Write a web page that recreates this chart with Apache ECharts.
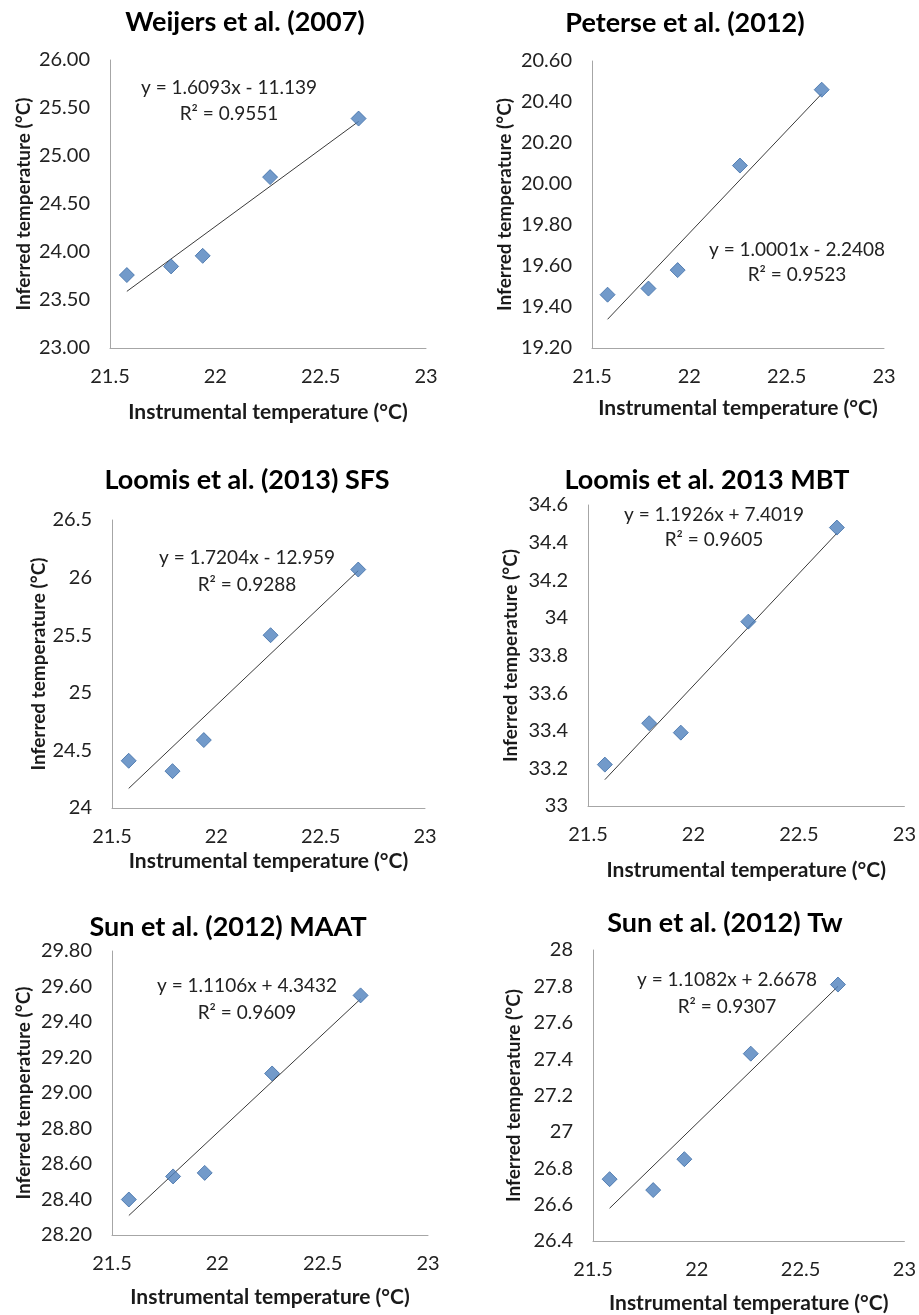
<!DOCTYPE html>
<html>
<head>
<meta charset="utf-8">
<script src="https://cdn.jsdelivr.net/npm/echarts@6/dist/echarts.min.js"></script>
<style>html,body{margin:0;padding:0;background:#fff;}#c{width:919px;height:1315px;}</style>
</head>
<body>
<div id="c"></div>
<script>
// ---- data ----
const instrumental = [21.58, 21.79, 21.94, 22.26, 22.68];
const xTickLabels = ['21.5', '22', '22.5', '23'];

const titles = ['Weijers et al. (2007)', 'Peterse et al. (2012)', 'Loomis et al. (2013) SFS',
                'Loomis et al. 2013 MBT', 'Sun et al. (2012) MAAT', 'Sun et al. (2012) Tw'];

const weijers   = [23.76, 23.85, 23.96, 24.78, 25.39];
const peterse   = [19.46, 19.49, 19.58, 20.09, 20.46];
const loomisSFS = [24.41, 24.32, 24.59, 25.50, 26.07];
const loomisMBT = [33.22, 33.44, 33.39, 33.98, 34.48];
const sunMAAT   = [28.40, 28.53, 28.55, 29.11, 29.55];
const sunTw     = [26.74, 26.68, 26.85, 27.43, 27.81];

// trendline end values (y at x = 21.58 and x = 22.68)
const trendX = [21.58, 22.68];
const weijersTrend   = [23.59, 25.36];
const peterseTrend   = [19.34, 20.44];
const loomisSFSTrend = [24.17, 26.06];
const loomisMBTTrend = [33.14, 34.45];
const sunMAATTrend   = [28.31, 29.53];
const sunTwTrend     = [26.58, 27.80];

const equations = ['y = 1.6093x - 11.139', 'y = 1.0001x - 2.2408', 'y = 1.7204x - 12.959',
                   'y = 1.1926x + 7.4019', 'y = 1.1106x + 4.3432', 'y = 1.1082x + 2.6678'];
const rSquared = ['R\u00b2 = 0.9551', 'R\u00b2 = 0.9523', 'R\u00b2 = 0.9288',
                  'R\u00b2 = 0.9605', 'R\u00b2 = 0.9609', 'R\u00b2 = 0.9307'];

const yTicks1 = ['23.00', '23.50', '24.00', '24.50', '25.00', '25.50', '26.00'];
const yTicks2 = ['19.20', '19.40', '19.60', '19.80', '20.00', '20.20', '20.40', '20.60'];
const yTicks3 = ['24', '24.5', '25', '25.5', '26', '26.5'];
const yTicks4 = ['33', '33.2', '33.4', '33.6', '33.8', '34', '34.2', '34.4', '34.6'];
const yTicks5 = ['28.20', '28.40', '28.60', '28.80', '29.00', '29.20', '29.40', '29.60', '29.80'];
const yTicks6 = ['26.4', '26.6', '26.8', '27', '27.2', '27.4', '27.6', '27.8', '28'];

const yMin = [23, 19.2, 24, 33, 28.2, 26.4];
const yMax = [26, 20.6, 26.5, 34.6, 29.8, 28];
const yStep = [0.5, 0.2, 0.5, 0.2, 0.2, 0.2];

const series6 = [weijers, peterse, loomisSFS, loomisMBT, sunMAAT, sunTw];
const trends6 = [weijersTrend, peterseTrend, loomisSFSTrend, loomisMBTTrend, sunMAATTrend, sunTwTrend];
const yTickSets = [yTicks1, yTicks2, yTicks3, yTicks4, yTicks5, yTicks6];

// ---- layout ----
const grids = [
  {left: 110, top: 60,  width: 316, height: 288},
  {left: 592, top: 61,  width: 292, height: 287},
  {left: 112, top: 520, width: 313, height: 288},
  {left: 588, top: 505, width: 318, height: 301},
  {left: 112, top: 951, width: 316, height: 284},
  {left: 593, top: 950, width: 313, height: 291}
];
const titlePos = [[245, 22], [685, 23], [247, 480], [707, 480], [228, 927], [725, 923]];
const eqPos = [[229, 88, 114], [797, 250, 275], [247, 558, 585], [714, 515, 540], [247, 986, 1013], [727, 980, 1007]];
const xNameGap = [54, 50, 43, 54, 52, 52];
const yNameGap = [77, 78, 59, 68, 79, 70];

const FONT = 'Lato';
const option = {
  backgroundColor: '#fff',
  animation: false,
  grid: grids.map(g => Object.assign({containLabel: false}, g)),
  xAxis: [], yAxis: [], series: [], graphic: []
};

for (let i = 0; i < 6; i++) {
  option.xAxis.push({
    type: 'value', gridIndex: i, min: 21.5, max: 23, interval: 0.5,
    name: 'Instrumental temperature (\u00b0C)', nameLocation: 'middle', nameGap: xNameGap[i],
    nameTextStyle: {fontFamily: FONT, fontWeight: 'bold', fontSize: 21, color: '#1a1a1a'},
    axisLine: {show: true, lineStyle: {color: '#a6a6a6', width: 1}},
    axisTick: {show: false},
    splitLine: {show: false},
    axisLabel: {fontFamily: FONT, fontSize: 20, color: '#222', margin: 19,
      formatter: v => xTickLabels[Math.round((v - 21.5) / 0.5)]}
  });
  const ticks = yTickSets[i], mn = yMin[i], st = yStep[i];
  option.yAxis.push({
    type: 'value', gridIndex: i, min: yMin[i], max: yMax[i], interval: yStep[i],
    name: 'Inferred temperature (\u00b0C)', nameLocation: 'middle', nameGap: yNameGap[i],
    nameTextStyle: {fontFamily: FONT, fontWeight: 'bold', fontSize: 19, color: '#1a1a1a'},
    axisLine: {show: true, lineStyle: {color: '#a6a6a6', width: 1}},
    axisTick: {show: false},
    splitLine: {show: false},
    axisLabel: {fontFamily: FONT, fontSize: 20, color: '#222', margin: 20,
      formatter: v => ticks[Math.round((v - mn) / st)]}
  });
  option.series.push({
    type: 'line', xAxisIndex: i, yAxisIndex: i,
    data: trendX.map((x, k) => [x, trends6[i][k]]),
    symbol: 'none', lineStyle: {color: '#3a3a3a', width: 1}, z: 2
  });
  option.series.push({
    type: 'scatter', xAxisIndex: i, yAxisIndex: i,
    data: instrumental.map((x, k) => [x, series6[i][k]]),
    symbol: 'diamond', symbolSize: [15, 15],
    itemStyle: {color: '#4f81bd', borderColor: '#3d6da6', borderWidth: 1}, z: 3
  });
  option.graphic.push({
    type: 'text', x: titlePos[i][0], y: titlePos[i][1],
    style: {text: titles[i], fontFamily: FONT, fontWeight: 'bold', fontSize: 27,
      fill: '#000', textAlign: 'center', textVerticalAlign: 'middle'}
  });
  option.graphic.push({
    type: 'text', x: eqPos[i][0], y: eqPos[i][1],
    style: {text: equations[i], fontFamily: FONT, fontSize: 19,
      fill: '#222', textAlign: 'center', textVerticalAlign: 'middle'}
  });
  option.graphic.push({
    type: 'text', x: eqPos[i][0], y: eqPos[i][2],
    style: {text: rSquared[i], fontFamily: FONT, fontSize: 19,
      fill: '#222', textAlign: 'center', textVerticalAlign: 'middle'}
  });
}

const chart = echarts.init(document.getElementById('c'), null, {renderer: 'canvas'});
chart.setOption(option);
</script>
</body>
</html>
